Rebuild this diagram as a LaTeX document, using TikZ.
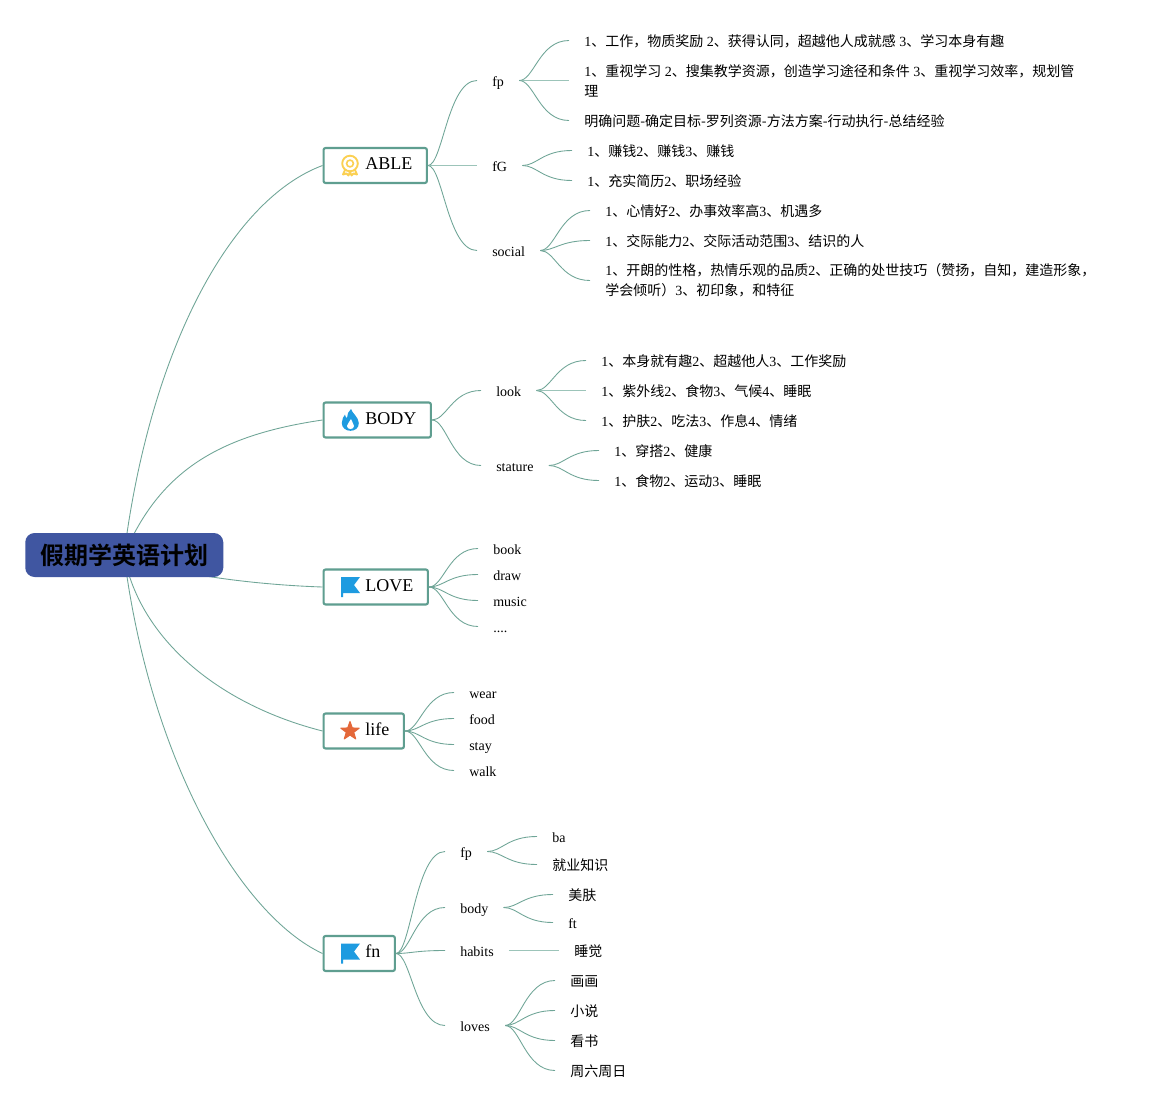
\documentclass[tikz,border=0pt]{standalone}
\usepackage{fontspec}
\usetikzlibrary{calc}
\setmainfont{Liberation Serif}
\newfontfamily\cjk{Noto Sans CJK SC}
\newfontfamily\cjkbold{Noto Sans CJK SC Bold}
\newcommand{\zh}[1]{{\cjk #1}}
\definecolor{linkc}{HTML}{6FA597}
\definecolor{flatc}{HTML}{9CC4B9}
\definecolor{boxc}{HTML}{5F9E90}
\definecolor{rootc}{HTML}{4056A1}
\definecolor{flagc}{HTML}{1E9BE0}
\definecolor{starc}{HTML}{E4683A}
\definecolor{medalc}{HTML}{FBD052}
\tikzset{
  linkl/.style={draw=linkc,line width=0.65pt},
  flatl/.style={draw=flatc,line width=1.2pt},
  topic/.style={draw=boxc,line width=1.6pt,rounded corners=1.5pt,fill=white,anchor=west,inner sep=0pt,minimum height=26.2pt},
  toplabel/.style={anchor=west,inner sep=0pt,font=\fontsize{13.5pt}{16pt}\selectfont,text height=9pt,text depth=0pt},
  leaf/.style={anchor=west,inner xsep=11.25pt,inner ysep=0pt,font=\fontsize{10.5pt}{15pt}\selectfont,text height=10pt,text depth=0.5pt},
  multi/.style={leaf,align=left,text height=,text depth=},
  rootbox/.style={fill=rootc,rounded corners=7pt,anchor=west,minimum width=148.5pt,minimum height=33pt,inner sep=0pt,text=black}
}
\newcommand{\conn}[2]{\draw[linkl] let \p1=(#1.east),\p2=(#2.west),\n1={\x2-\x1} in (\p1) .. controls ({\x1+0.3*\n1},\y1) and ({\x1+0.4*\n1},\y2) .. (\p2);}
\newcommand{\flatconn}[2]{\draw[flatl] (#1.east) -- (#2.west);}
\newcommand{\flagicon}[1]{\fill[flagc] (341,#1-10) -- (360,#1-10) -- (354,#1-2) -- (360,#1+6) -- (343,#1+6) -- (343,#1+10) -- (341,#1+10) -- cycle;}
\begin{document}
\begin{tikzpicture}[x=0.75pt,y=-0.75pt]
\useasboundingbox[fill=white] (0,0) rectangle (1165,1110);
% placing nodes
\coordinate (rootc) at (124,555);
\node[topic,minimum width=77.5pt] (able) at (322.5,165.5) {};
\node[topic,minimum width=80.5pt] (bodyt) at (322.5,420) {};
\node[topic,minimum width=78.25pt] (love) at (322.5,587) {};
\node[topic,minimum width=60.25pt] (life) at (322.5,731) {};
\node[topic,minimum width=53.5pt] (fn) at (322.5,953.5) {};
% root connectors
\draw[linkl] (rootc) .. controls (150,350) and (230,200) .. (able.west);
\draw[linkl] (rootc) .. controls (160,470) and (220,435) .. (bodyt.west);
\draw[linkl] (rootc) .. controls (170,575) and (260,585) .. (love.west);
\draw[linkl] (rootc) .. controls (140,640) and (220,705) .. (life.west);
\draw[linkl] (rootc) .. controls (150,760) and (240,915) .. (fn.west);
\node[rootbox] (root) at (25,555) {\raisebox{-1.5pt}{\fontsize{18pt}{20pt}\selectfont\cjkbold 假期学英语计划}};
% topic labels
\node[toplabel] (ablet) at (365,163) {ABLE};
\node[toplabel] (bodytt) at (365,418) {BODY};
\node[toplabel] (lovet) at (365,585) {LOVE};
\node[toplabel] (lifet) at (365,729) {life};
\node[toplabel] (fnt) at (365,951) {fn};
% icons
\draw[medalc,line width=1.4pt] (350,163.5) circle (7.8);
\draw[medalc,line width=1.2pt] (350,163.5) circle (3.4);
\draw[medalc,line width=1.4pt,line join=round] (345,170) -- (343,174.5) -- (346.5,173.5) -- (348.5,175.5) -- (350,171.5) -- (351.5,175.5) -- (353.5,173.5) -- (357,174.5) -- (355,170);
\fill[flagc] (351,409) .. controls (352,413) and (358.5,417) .. (358.8,423) .. controls (359,428) and (355,430.8) .. (350.5,430.8) .. controls (345.5,430.8) and (341.8,427.5) .. (341.8,423) .. controls (341.8,419.5) and (343.5,416.5) .. (345,414.5) .. controls (345.3,416.5) and (346,417.5) .. (347,418) .. controls (347,414.5) and (348.5,411) .. (351,409) -- cycle;
\fill[white] (351,419) .. controls (351.5,422) and (354,423.5) .. (354,426) .. controls (354,428) and (352.5,429) .. (350.5,429) .. controls (348.5,429) and (347,428) .. (347,426) .. controls (347,423.5) and (350,422) .. (351,419) -- cycle;
\flagicon{587}
\flagicon{953.5}
\fill[starc,line join=round,draw=starc,line width=0.8pt] (350,721.5) -- (352.3,728) -- (359.2,728.1) -- (353.7,732.3) -- (355.7,738.9) -- (350,735) -- (344.3,738.9) -- (346.3,732.3) -- (340.8,728.1) -- (347.7,728) -- cycle;
% ABLE
\node[leaf] (a1) at (477,80.5) {fp};
\node[leaf] (a2) at (477,165.5) {fG};
\node[leaf] (a3) at (477,250.5) {social};
\node[leaf] (a11) at (569,40.5) {1\zh{、工作，物质奖励} 2\zh{、获得认同，超越他人成就感} 3\zh{、学习本身有趣}};
\node[multi] (a12) at (569,80.5) {1\zh{、重视学习} 2\zh{、搜集教学资源，创造学习途径和条件} 3\zh{、重视学习效率，规划管}\\\zh{理}};
\node[leaf] (a13) at (569,120.5) {\zh{明确问题-确定目标-罗列资源-方法方案-行动执行-总结经验}};
\node[leaf] (a21) at (572,150.5) {1\zh{、赚钱}2\zh{、赚钱}3\zh{、赚钱}};
\node[leaf] (a22) at (572,180.5) {1\zh{、充实简历}2\zh{、职场经验}};
\node[leaf] (a31) at (590,210.5) {1\zh{、心情好}2\zh{、办事效率高}3\zh{、机遇多}};
\node[leaf] (a32) at (590,240.5) {1\zh{、交际能力}2\zh{、交际活动范围}3\zh{、结识的人}};
\node[multi] (a33) at (590,280.5) {1\zh{、开朗的性格，热情乐观的品质}2\zh{、正确的处世技巧（赞扬，自知，建造形象，}\\\zh{学会倾听）}3\zh{、初印象，和特征}};
\conn{able}{a1}
\flatconn{able}{a2}
\conn{able}{a3}
\conn{a1}{a11}
\flatconn{a1}{a12}
\conn{a1}{a13}
\conn{a2}{a21}
\conn{a2}{a22}
\conn{a3}{a31}
\conn{a3}{a32}
\conn{a3}{a33}
% BODY
\node[leaf] (b1) at (481,390.5) {look};
\node[leaf] (b2) at (481,465.5) {stature};
\node[leaf] (b11) at (586,360.5) {1\zh{、本身就有趣}2\zh{、超越他人}3\zh{、工作奖励}};
\node[leaf] (b12) at (586,390.5) {1\zh{、紫外线}2\zh{、食物}3\zh{、气候}4\zh{、睡眠}};
\node[leaf] (b13) at (586,420.5) {1\zh{、护肤}2\zh{、吃法}3\zh{、作息}4\zh{、情绪}};
\node[leaf] (b21) at (599,450.5) {1\zh{、穿搭}2\zh{、健康}};
\node[leaf] (b22) at (599,480.5) {1\zh{、食物}2\zh{、运动}3\zh{、睡眠}};
\conn{bodyt}{b1}
\conn{bodyt}{b2}
\conn{b1}{b11}
\flatconn{b1}{b12}
\conn{b1}{b13}
\conn{b2}{b21}
\conn{b2}{b22}
% LOVE
\node[leaf] (l1) at (478,548.5) {book};
\node[leaf] (l2) at (478,574.5) {draw};
\node[leaf] (l3) at (478,600.5) {music};
\node[leaf] (l4) at (478,626.5) {....};
\foreach \c in {l1,l2,l3,l4} {\conn{love}{\c}}
% life
\node[leaf] (w1) at (454,692.5) {wear};
\node[leaf] (w2) at (454,718.5) {food};
\node[leaf] (w3) at (454,744.5) {stay};
\node[leaf] (w4) at (454,770.5) {walk};
\foreach \c in {w1,w2,w3,w4} {\conn{life}{\c}}
% fn
\node[leaf] (f1) at (445,851.5) {fp};
\node[leaf] (f2) at (445,907.5) {body};
\node[leaf] (f3) at (445,950.5) {habits};
\node[leaf] (f4) at (445,1025.5) {loves};
\node[leaf] (f11) at (537,836.5) {ba};
\node[leaf] (f12) at (537,864.5) {\zh{就业知识}};
\node[leaf] (f21) at (553,894.5) {\zh{美肤}};
\node[leaf] (f22) at (553,922.5) {ft};
\node[leaf] (f31) at (559,950.5) {\zh{睡觉}};
\node[leaf] (f41) at (555,980.5) {\zh{画画}};
\node[leaf] (f42) at (555,1010.5) {\zh{小说}};
\node[leaf] (f43) at (555,1040.5) {\zh{看书}};
\node[leaf] (f44) at (555,1070.5) {\zh{周六周日}};
\foreach \c in {f1,f2,f3,f4} {\conn{fn}{\c}}
\conn{f1}{f11}
\conn{f1}{f12}
\conn{f2}{f21}
\conn{f2}{f22}
\flatconn{f3}{f31}
\conn{f4}{f41}
\conn{f4}{f42}
\conn{f4}{f43}
\conn{f4}{f44}
\end{tikzpicture}
\end{document}
